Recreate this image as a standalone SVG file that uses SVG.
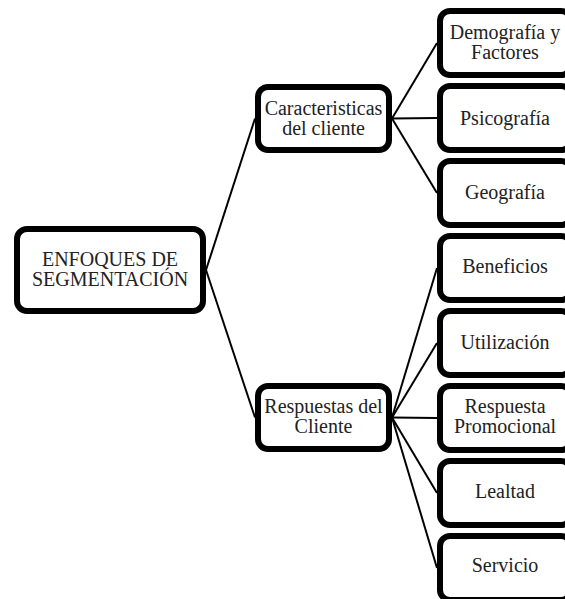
<svg xmlns="http://www.w3.org/2000/svg" width="565" height="599" viewBox="0 0 565 599">
<style>
rect.box{fill:#fff;stroke:#000;stroke-width:6}
text{font-family:"Liberation Serif","Times New Roman",serif;font-size:20px;fill:#222;text-anchor:middle}
#connectors line{stroke:#000;stroke-width:2}
</style>
<rect width="565" height="599" fill="#fff"/>
<g id="connectors">
<line x1="206" y1="270" x2="255" y2="118.5"/>
<line x1="206" y1="270" x2="255" y2="417.5"/>
<line x1="392" y1="118.5" x2="437" y2="43"/>
<line x1="392" y1="118.5" x2="437" y2="118"/>
<line x1="392" y1="118.5" x2="437" y2="193"/>
<line x1="392" y1="417.5" x2="437" y2="268"/>
<line x1="392" y1="417.5" x2="437" y2="343"/>
<line x1="392" y1="417.5" x2="437" y2="418"/>
<line x1="392" y1="417.5" x2="437" y2="493"/>
<line x1="392" y1="417.5" x2="437" y2="568"/>
</g>
<g id="root"><rect class="box" x="17" y="229" width="186" height="82" rx="10"/><text x="110" y="266">ENFOQUES DE</text><text x="110" y="286">SEGMENTACIÓN</text></g>
<g id="caracteristicas"><rect class="box" x="258" y="87" width="131" height="63" rx="10"/><text x="323.5" y="115">Caracteristicas</text><text x="323.5" y="135">del cliente</text></g>
<g id="respuestas"><rect class="box" x="258" y="386" width="131" height="63" rx="10"/><text x="323.5" y="413">Respuestas del</text><text x="323.5" y="433">Cliente</text></g>
<g id="demografia"><rect class="box" x="440" y="11" width="131" height="64" rx="10"/><text x="505" y="39">Demografía y</text><text x="505" y="59">Factores</text></g>
<g id="psicografia"><rect class="box" x="440" y="86" width="131" height="64" rx="10"/><text x="505" y="125">Psicografía</text></g>
<g id="geografia"><rect class="box" x="440" y="161" width="131" height="64" rx="10"/><text x="505" y="199">Geografía</text></g>
<g id="beneficios"><rect class="box" x="440" y="236" width="131" height="64" rx="10"/><text x="505" y="273">Beneficios</text></g>
<g id="utilizacion"><rect class="box" x="440" y="311" width="131" height="64" rx="10"/><text x="505" y="349">Utilización</text></g>
<g id="respuesta-promocional"><rect class="box" x="440" y="386" width="131" height="64" rx="10"/><text x="505" y="413">Respuesta</text><text x="505" y="433">Promocional</text></g>
<g id="lealtad"><rect class="box" x="440" y="461" width="131" height="64" rx="10"/><text x="505" y="498">Lealtad</text></g>
<g id="servicio"><rect class="box" x="440" y="536" width="131" height="64" rx="10"/><text x="505" y="572">Servicio</text></g>
</svg>
